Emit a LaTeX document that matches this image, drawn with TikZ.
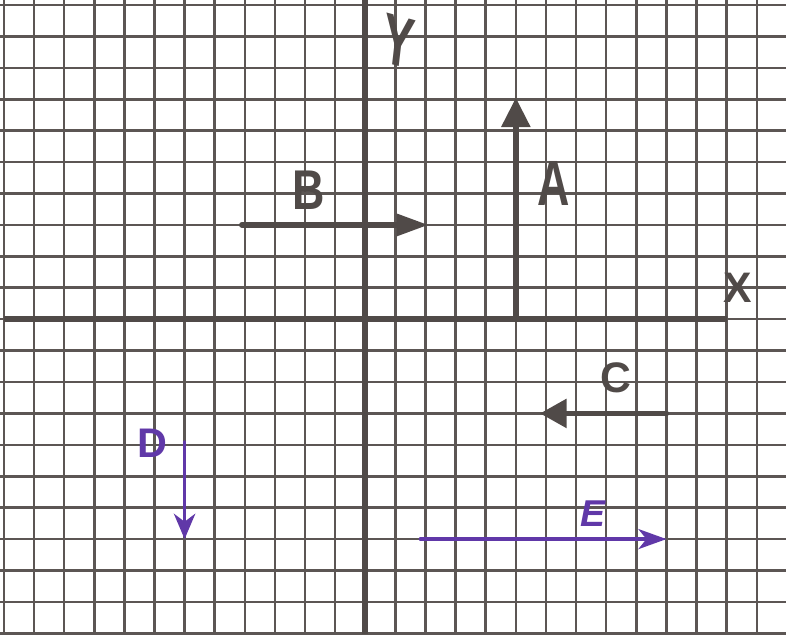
\documentclass[tikz,border=0pt]{standalone}
\usepackage{fontspec}
\setsansfont{Liberation Sans}
\usetikzlibrary{arrows.meta}
\definecolor{gridink}{RGB}{92,86,84}
\definecolor{marker}{RGB}{80,74,72}
\definecolor{pen}{RGB}{96,56,168}

\begin{document}
\begin{tikzpicture}[x=22.575pt,y=23.55pt,font=\sffamily\bfseries,
  vec/.style={draw=marker,line width=4.2pt,line cap=round},
  pvec/.style={draw=pen,line width=2.6pt,line cap=round},
  lbl/.style={inner sep=0pt,text=marker}]
\useasboundingbox (-12.13,-10.03) rectangle (13.97,10.16);
\draw[gridink,line width=1.9pt,step=1] (-12.13,-10.03) grid (13.97,10.16);
% axes
\coordinate (xl) at (-12,0);
\coordinate (xr) at (12,0);
\coordinate (yb) at (0,-10.03);
\coordinate (yt) at (0,10.16);
\draw[marker,line width=4.2pt] (xl) -- (xr);
\draw[marker,line width=4.2pt] (yb) -- (yt);
\node[lbl,font=\sffamily\bfseries\fontsize{54}{54}\selectfont,xscale=.65,rotate=-10] (ylab) at (1.1,8.85) {Y};
\node[lbl,font=\sffamily\bfseries\fontsize{32}{32}\selectfont] (xlab) at (12.36,0.99) {X};
% vectors A, B, C
\coordinate (a0) at (5,0);
\coordinate (a1) at (5,7.05);
\draw[vec,-{Triangle[length=22pt,width=21pt]}] (a0) -- (a1);
\node[lbl,font=\sffamily\bfseries\fontsize{48}{48}\selectfont,xscale=.7] (alab) at (6.25,4.33) {A};
\coordinate (b0) at (-4.1,3);
\coordinate (b1) at (2.1,3);
\draw[vec,-{Triangle[length=24pt,width=16pt]}] (b0) -- (b1);
\node[lbl,font=\sffamily\bfseries\fontsize{42}{42}\selectfont,xscale=.8] (blab) at (-1.89,4.11) {B};
\coordinate (c0) at (10,-3);
\coordinate (c1) at (5.8,-3);
\draw[vec,-{Triangle[length=20pt,width=21pt]}] (c0) -- (c1);
\node[lbl,font=\sffamily\bfseries\fontsize{32}{32}\selectfont] (clab) at (8.31,-1.88) {C};
% vectors D, E
\coordinate (d0) at (-6,-3.9);
\coordinate (d1) at (-6,-7);
\draw[pvec,-{Stealth[length=19pt,width=16pt,inset=6pt]}] (d0) -- (d1);
\node[lbl,text=pen,font=\sffamily\bfseries\fontsize{31}{31}\selectfont] (dlab) at (-7.08,-3.95) {D};
\coordinate (e0) at (1.83,-7);
\coordinate (e1) at (10,-7);
\draw[pvec,-{Stealth[length=21pt,width=15pt,inset=6pt]}] (e0) -- (e1);
\node[lbl,text=pen,font=\sffamily\bfseries\fontsize{28}{28}\selectfont\itshape] (elab) at (7.57,-6.18) {E};
\end{tikzpicture}
\end{document}
